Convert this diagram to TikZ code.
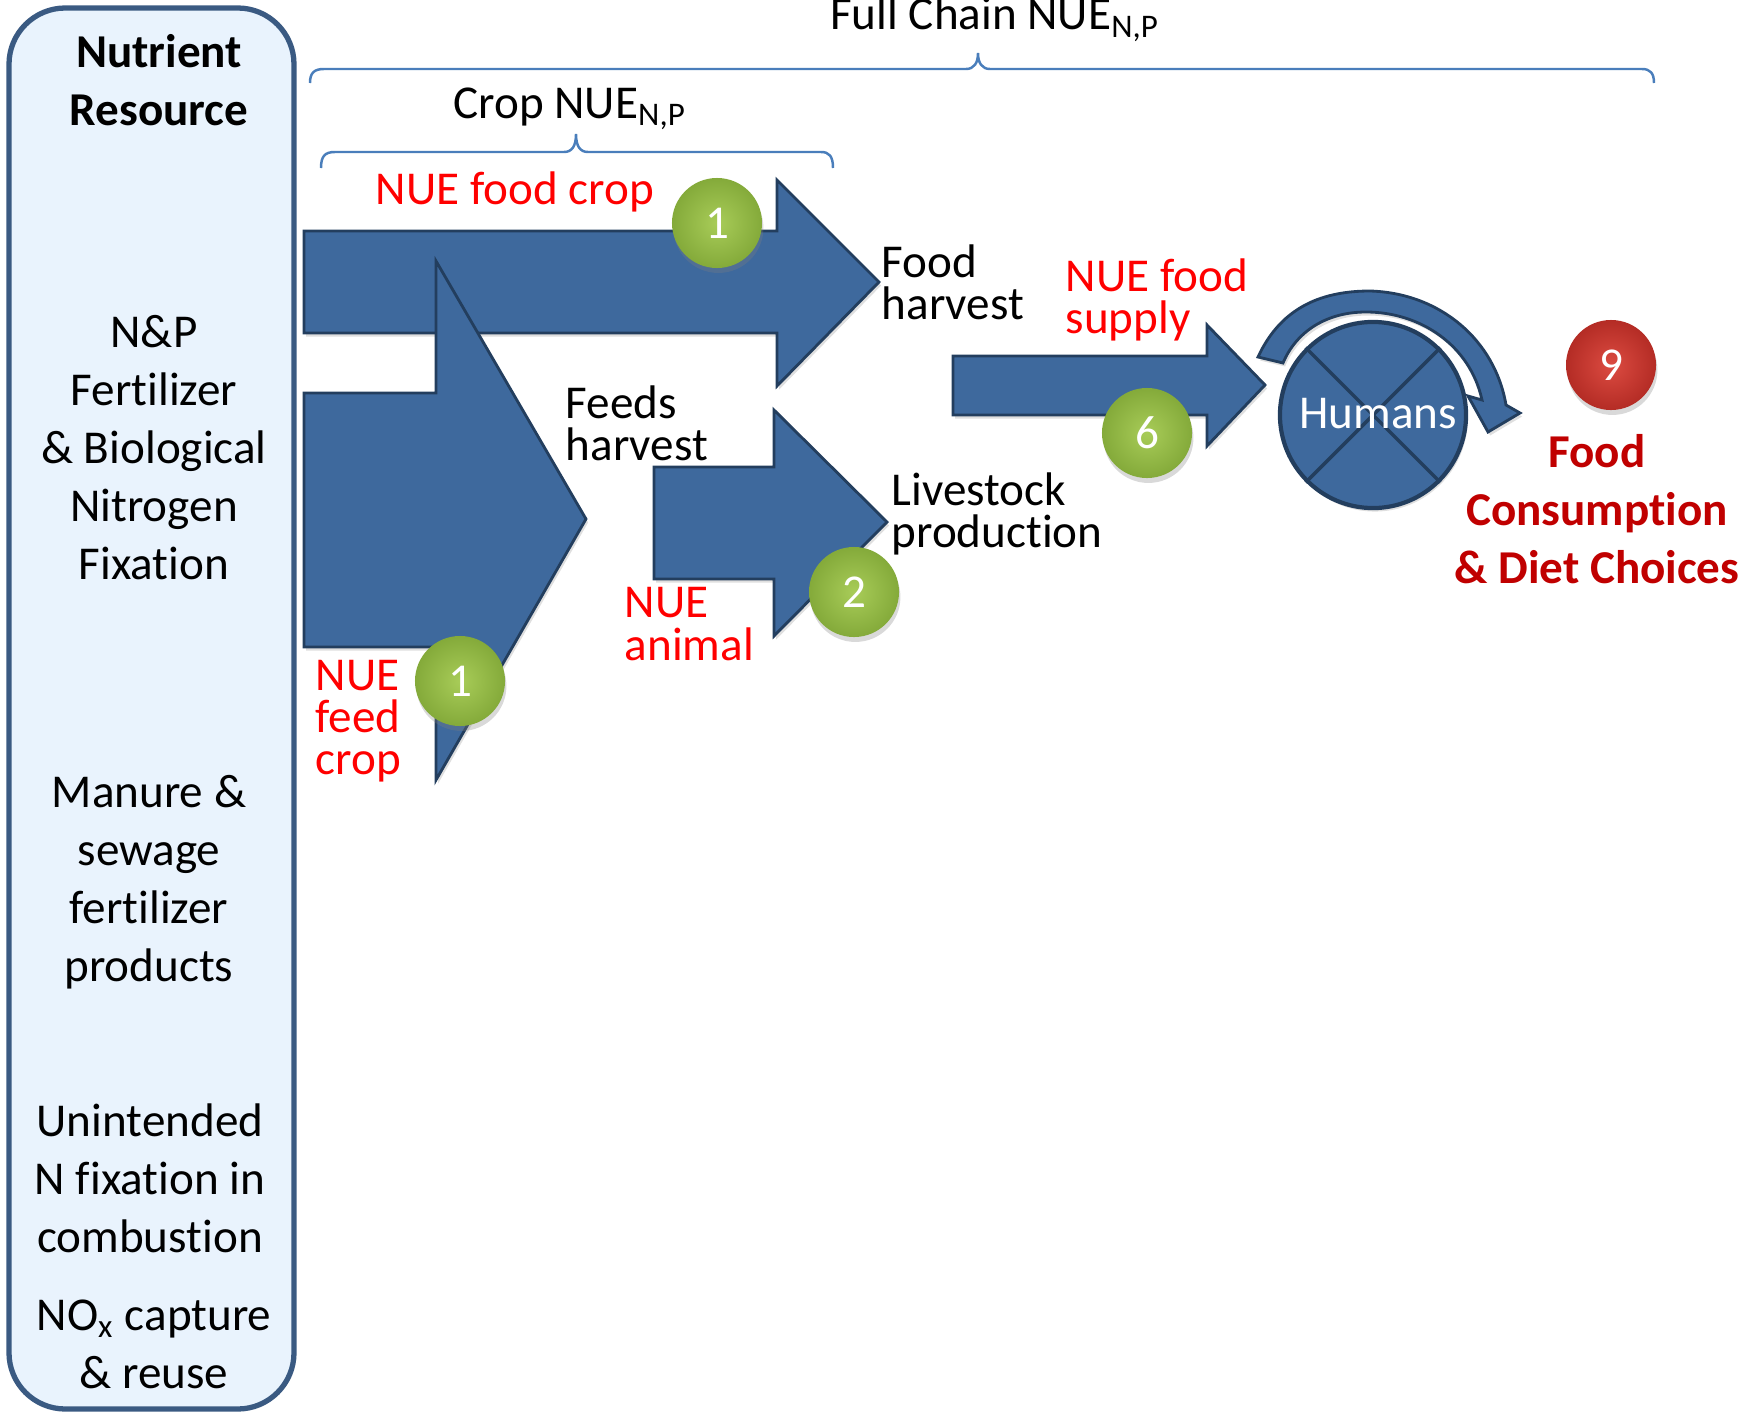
\documentclass[tikz,border=0pt]{standalone}
\usepackage{fontspec}
\setmainfont{Carlito}[Ligatures=NoCommon]
\usepackage{tikz}
\usetikzlibrary{shadows}

\definecolor{flowblue}{HTML}{3E699D}
\definecolor{flowedge}{HTML}{233E5E}
\definecolor{panelfill}{HTML}{E9F3FD}
\definecolor{paneledge}{HTML}{3A5A82}
\definecolor{bracecol}{HTML}{4A7EBB}
\definecolor{nuered}{HTML}{FF0000}
\definecolor{dietred}{HTML}{C00000}
\definecolor{greenlight}{HTML}{A8CC58}
\definecolor{greendark}{HTML}{84AA3A}
\definecolor{redlight}{HTML}{DC4B41}
\definecolor{reddark}{HTML}{B42C25}

\tikzset{
  flowarrow/.style={fill=flowblue, draw=flowedge, line width=0.8pt, line join=miter,
    drop shadow={opacity=0.25, shadow xshift=0.6pt, shadow yshift=-1pt}},
  badge/.style={circle, minimum size=0.9cm, inner sep=0pt, text=white,
    font=\fontsize{13.4}{14}\selectfont,
    drop shadow={opacity=0.3, shadow xshift=0.4pt, shadow yshift=-1.4pt}},
  greenbadge/.style={badge, inner color=greenlight, outer color=greendark},
  redbadge/.style={badge, inner color=redlight, outer color=reddark},
  sourcetext/.style={align=center, font=\fontsize{13.4}{16.5}\selectfont},
  flowlabel/.style={align=left, anchor=west, inner sep=0pt, font=\fontsize{13.4}{12}\selectfont},
  nuelabel/.style={flowlabel, text=nuered},
  bracket/.style={draw=bracecol, line width=0.7pt},
}

\begin{document}
\begin{tikzpicture}[x=0.01cm, y=-0.01cm]
\useasboundingbox (0,0) rectangle (1748,1412);

% nutrient resource panel
\draw[fill=panelfill, draw=paneledge, line width=1.5pt, rounded corners=16pt] (9,8) rectangle (294,1409);
\node[sourcetext, font=\fontsize{13.4}{16.5}\selectfont\bfseries] (resource) at (159,80) {Nutrient\\Resource};
\node[sourcetext] (fert) at (154,448) {N\&P\\Fertilizer\\\& Biological\\Nitrogen\\Fixation};
\node[sourcetext] (manure) at (149,882) {Manure \&\\sewage\\fertilizer\\products};
\node[sourcetext] (combust) at (150,1178) {Unintended\\N fixation in\\combustion};
\node[sourcetext] (nox) at (154,1344) {NO\textsubscript{x} capture\\\& reuse};

% braces
\draw[bracket] (310,83) .. controls (310,73) and (314,69) .. (324,69) -- (966,69)
  .. controls (974,69) and (978,63) .. (978,53) .. controls (978,63) and (982,69) .. (990,69)
  -- (1642,69) .. controls (1650,69) and (1654,73) .. (1654,83);
\draw[bracket] (321,168) .. controls (321,156) and (325,152) .. (335,152) -- (564,152)
  .. controls (572,152) and (576,146) .. (576,134) .. controls (576,146) and (580,152) .. (588,152)
  -- (821,152) .. controls (829,152) and (833,156) .. (833,168);
\node[font=\fontsize{13.4}{16}\selectfont, anchor=base] (fullnue) at (995,30) {Full Chain NUE\textsubscript{N,P}};
\node[font=\fontsize{13.4}{16}\selectfont, anchor=base] (cropnue) at (570,118) {Crop NUE\textsubscript{N,P}};

% block arrows
\fill[flowarrow] (304,231) -- (777,231) -- (777,180) -- (879,282) -- (777,386) -- (777,333) -- (304,333) -- cycle;
\node[greenbadge] (b1top) at (717,223) {1};
\fill[flowarrow] (304,393) -- (436,393) -- (436,261) -- (586,519) -- (436,780) -- (436,647) -- (304,647) -- cycle;
\node[greenbadge] (b1low) at (460,681) {1};
\fill[flowarrow] (654,467) -- (774,467) -- (774,410) -- (887,522) -- (774,636) -- (774,579) -- (654,579) -- cycle;
\node[greenbadge] (b2) at (854,592) {2};
\fill[flowarrow] (953,356) -- (1207,356) -- (1207,325) -- (1265,385) -- (1207,446) -- (1207,415) -- (953,415) -- cycle;
\node[greenbadge] (b6) at (1147,433) {6};

% humans
\node[circle, minimum size=1.86cm, fill=flowblue, draw=flowedge, line width=1.2pt,
  drop shadow={opacity=0.25, shadow xshift=0.5pt, shadow yshift=-1pt}] (humans) at (1373,415) {};
\draw[flowedge, line width=1pt] (humans.north west) -- (humans.south east)
  (humans.north east) -- (humans.south west);
\node[text=white, font=\fontsize{13.4}{16}\selectfont] (humtext) at (1378,414) {Humans};
\fill[flowarrow] (1258,357) .. controls (1282,305) and (1325,291) .. (1370,291)
  .. controls (1440,293) and (1495,340) .. (1506,405) -- (1520,413) -- (1488,432) -- (1468,396) -- (1482,400)
  .. controls (1470,345) and (1420,312) .. (1366,312) .. controls (1326,312) and (1296,332) .. (1283,363) -- cycle;
\node[redbadge] (b9) at (1611,365) {9};

% labels
\node[nuelabel, anchor=center] (nuefood) at (515,192) {NUE food crop};
\node[flowlabel] (foodharv) at (881,282) {Food\\harvest};
\node[flowlabel] (feedharv) at (565,423) {Feeds\\harvest};
\node[flowlabel] (livestock) at (891,514) {Livestock\\production};
\node[nuelabel] (nuesupply) at (1065,300) {NUE food\\supply};
\node[nuelabel] (nueanimal) at (624,624) {NUE\\animal};
\node[nuelabel] (nuefeed) at (315,721) {NUE\\feed\\crop};
\node[sourcetext, text=dietred, font=\fontsize{13.4}{16.5}\selectfont\bfseries] (diet) at (1597,509)
  {Food\\Consumption\\\& Diet Choices};
\end{tikzpicture}
\end{document}
